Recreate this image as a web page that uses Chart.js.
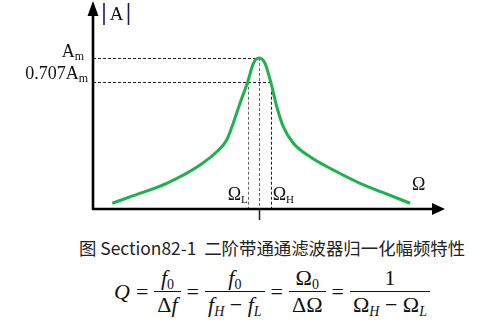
<!DOCTYPE html>
<html>
<head>
<meta charset="utf-8">
<script src="https://cdn.jsdelivr.net/npm/chart.js@4.4.1/dist/chart.umd.min.js"></script>
<style>
  html, body { margin: 0; padding: 0; background: #fff; }
  #wrap { position: relative; width: 490px; height: 334px; overflow: hidden; }
  #bpChart { position: absolute; left: 0; top: 0; }
  #caption {
    position: absolute; left: 79px; top: 238px; white-space: nowrap;
    font-family: 'Noto Sans CJK SC', 'Noto Sans', sans-serif; font-size: 17.4px; line-height: 20px; color: #222;
  }
  #formula {
    position: absolute; left: 114px; top: 265px; display: flex; align-items: center;
    font-family: 'Liberation Serif', 'DejaVu Serif', serif; font-size: 22px; color: #111;
  }
  #formula .eq { margin: 0 6px; }
  .frac { display: inline-flex; flex-direction: column; align-items: center; }
  .frac .num { border-bottom: 1.5px solid #111; padding: 0 3px; line-height: 26px; align-self: stretch; text-align: center; }
  .frac .den { padding: 0 3px; line-height: 26px; }
  sub { font-size: 14px; vertical-align: -4px; line-height: 0; }
</style>
</head>
<body>
<div id="wrap">
  <canvas id="bpChart" width="490" height="230"></canvas>
  <div id="caption">图 Section82-1&nbsp; 二阶带通通滤波器归一化幅频特性</div>
  <div id="formula">
    <i>Q</i><span class="eq">=</span>
    <span class="frac"><span class="num"><i>f</i><sub>0</sub></span><span class="den">Δ<i>f</i></span></span>
    <span class="eq">=</span>
    <span class="frac"><span class="num"><i>f</i><sub>0</sub></span><span class="den"><i>f</i><sub><i>H</i></sub> − <i>f</i><sub><i>L</i></sub></span></span>
    <span class="eq">=</span>
    <span class="frac"><span class="num">Ω<sub>0</sub></span><span class="den">ΔΩ</span></span>
    <span class="eq">=</span>
    <span class="frac"><span class="num">1</span><span class="den">Ω<sub><i>H</i></sub> − Ω<sub><i>L</i></sub></span></span>
  </div>
</div>
<script>
// normalized frequency (Omega) and normalized gain |A|/Am
const omega = [0.116, 0.243, 0.444, 0.645, 0.745, 0.805, 0.845, 0.886, 0.932, 0.966, 1.0,
               1.036, 1.070, 1.107, 1.146, 1.207, 1.307, 1.448, 1.608, 1.749, 1.910];
const gain = [0.038, 0.088, 0.170, 0.291, 0.379, 0.457, 0.570, 0.702, 0.843, 0.965, 1.0,
              0.965, 0.843, 0.677, 0.545, 0.435, 0.346, 0.258, 0.170, 0.108, 0.038];

const omegaL = 0.932;
const omega0 = 1.0;
const omegaH = 1.070;
const ampMax = 1.0;
const ampHalf = 0.843;   // drawn level of 0.707Am

const xMax = 2.09;
const yMax = 1.351;

const points = omega.map((w, i) => ({ x: w, y: gain[i] }));

function subText(ctx, main, sub, x, y, align, size, subSize) {
  ctx.font = size + 'px "Liberation Serif", serif';
  const wMain = ctx.measureText(main).width;
  ctx.font = subSize + 'px "Liberation Serif", serif';
  const wSub = ctx.measureText(sub).width;
  const x0 = align === 'right' ? x - wMain - wSub : x;
  ctx.textAlign = 'left';
  ctx.textBaseline = 'alphabetic';
  ctx.font = size + 'px "Liberation Serif", serif';
  ctx.fillText(main, x0, y);
  ctx.font = subSize + 'px "Liberation Serif", serif';
  ctx.fillText(sub, x0 + wMain, y + 3);
}

const diagram = {
  id: 'diagram',
  beforeDatasetsDraw(chart) {
    const ctx = chart.ctx;
    const xs = chart.scales.x, ys = chart.scales.y;
    const left = chart.chartArea.left, base = ys.getPixelForValue(0);
    const pL = xs.getPixelForValue(omegaL), p0 = xs.getPixelForValue(omega0), pH = xs.getPixelForValue(omegaH);
    const yM = ys.getPixelForValue(ampMax), yH = ys.getPixelForValue(ampHalf);
    ctx.save();
    ctx.lineWidth = 1;
    ctx.setLineDash([3, 2]);
    ctx.strokeStyle = '#222';
    ctx.beginPath();
    ctx.moveTo(left, Math.round(yM) + 0.5); ctx.lineTo(p0, Math.round(yM) + 0.5);
    ctx.moveTo(left, Math.round(yH) + 0.5); ctx.lineTo(pH, Math.round(yH) + 0.5);
    ctx.moveTo(Math.round(pH) + 0.5, yH); ctx.lineTo(Math.round(pH) + 0.5, base);
    ctx.stroke();
    ctx.strokeStyle = '#666';
    ctx.beginPath();
    ctx.moveTo(Math.round(pL) + 0.5, yH); ctx.lineTo(Math.round(pL) + 0.5, base);
    ctx.moveTo(Math.round(p0) + 0.5, yM); ctx.lineTo(Math.round(p0) + 0.5, base);
    ctx.stroke();
    ctx.restore();
  },
  afterDatasetsDraw(chart) {
    const ctx = chart.ctx;
    const xs = chart.scales.x, ys = chart.scales.y;
    const area = chart.chartArea;
    const left = area.left, base = ys.getPixelForValue(0);
    const pL = xs.getPixelForValue(omegaL), p0 = xs.getPixelForValue(omega0), pH = xs.getPixelForValue(omegaH);
    const yM = ys.getPixelForValue(ampMax), yH = ys.getPixelForValue(ampHalf);
    ctx.save();
    // axes
    ctx.strokeStyle = '#000';
    ctx.fillStyle = '#000';
    ctx.lineWidth = 2.6;
    ctx.beginPath();
    ctx.moveTo(left, base + 1); ctx.lineTo(left, 14);
    ctx.moveTo(left - 1, base); ctx.lineTo(area.right - 8, base);
    ctx.stroke();
    ctx.beginPath();
    ctx.moveTo(left, 1); ctx.lineTo(left - 5.5, 16); ctx.lineTo(left + 5.5, 16); ctx.closePath();
    ctx.fill();
    ctx.beginPath();
    ctx.moveTo(area.right + 5, base); ctx.lineTo(area.right - 8, base - 6); ctx.lineTo(area.right - 8, base + 6); ctx.closePath();
    ctx.fill();
    // tick at Omega0
    ctx.lineWidth = 1.5;
    ctx.strokeStyle = '#1a1a3a';
    ctx.beginPath();
    ctx.moveTo(Math.round(p0) + 0.5, base); ctx.lineTo(Math.round(p0) + 0.5, base + 11);
    ctx.stroke();
    // |A|
    ctx.lineWidth = 1.6;
    ctx.strokeStyle = '#1a1a5a';
    ctx.beginPath();
    ctx.moveTo(104, 3); ctx.lineTo(104, 25);
    ctx.moveTo(128.5, 3); ctx.lineTo(128.5, 25);
    ctx.stroke();
    ctx.fillStyle = '#111';
    ctx.font = '19px "Liberation Serif", serif';
    ctx.textAlign = 'center';
    ctx.fillText('A', 116.5, 20);
    // level labels
    subText(ctx, 'A', 'm', left - 9, yM - 1, 'right', 18, 12);
    subText(ctx, '0.707A', 'm', left - 5, yH - 3, 'right', 18, 12);
    // frequency labels
    subText(ctx, 'Ω', 'L', pL - 20, 200, 'left', 18, 11);
    subText(ctx, 'Ω', 'H', pH + 2, 200, 'left', 18, 11);
    ctx.font = '18px "Liberation Serif", serif';
    ctx.textAlign = 'left';
    ctx.fillText('Ω', 412, 190);
    ctx.restore();
  }
};

new Chart(document.getElementById('bpChart'), {
  type: 'line',
  data: {
    datasets: [{
      data: points,
      borderColor: '#1fb04f',
      borderWidth: 3,
      pointRadius: 0,
      fill: false,
      cubicInterpolationMode: 'monotone'
    }]
  },
  options: {
    responsive: false,
    animation: false,
    layout: { padding: { left: 93, right: 50, top: 5, bottom: 21 } },
    plugins: { legend: { display: false }, tooltip: { enabled: false } },
    scales: {
      x: { type: 'linear', min: 0, max: xMax, display: false },
      y: { min: 0, max: yMax, display: false }
    }
  },
  plugins: [diagram]
});
</script>
</body>
</html>
